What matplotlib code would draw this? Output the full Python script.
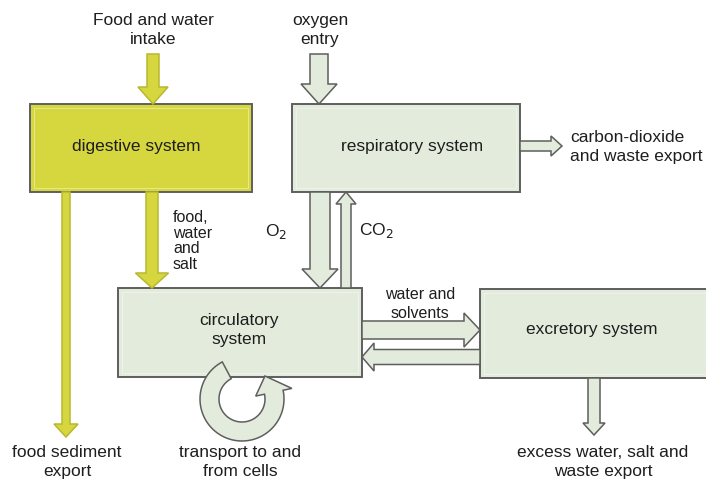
import numpy as np
import matplotlib
matplotlib.use('Agg')
import matplotlib.pyplot as plt
from matplotlib.patches import Rectangle, FancyArrow, Polygon

plt.rcParams['font.family'] = ['Liberation Sans', 'DejaVu Sans']

yellow = '#d6d73e'
pale = '#e3ecdc'
edge = '#5e5e5e'

# boxes: name, x0, y0, x1, y1, colour (pixel coords, y downward)
box_names = ['digestive system', 'respiratory system', 'circulatory\nsystem', 'excretory system']
box_x0 = [30, 292, 118, 480]
box_y0 = [105, 105, 289, 290]
box_x1 = [252, 520, 362, 712]
box_y1 = [193, 193, 378, 379]
box_cols = [yellow, pale, pale, pale]
box_text_y = [147, 147, 330, 330]
box_text_x = [136, 412, 239, 592]

fig = plt.figure(figsize=(7.06, 4.81), dpi=100)
ax = fig.add_axes([0, 0, 1, 1])
ax.set_xlim(0, 706)
ax.set_ylim(481, 0)
ax.axis('off')

for n, x0, y0, x1, y1, c, tx, ty in zip(box_names, box_x0, box_y0, box_x1, box_y1,
                                        box_cols, box_text_x, box_text_y):
    ax.add_patch(Rectangle((x0, y0), x1 - x0, y1 - y0, fc=c, ec=edge, lw=1.4, zorder=2))
    ax.add_patch(Rectangle((x0 + 4, y0 + 4), x1 - x0 - 8, y1 - y0 - 8, fc='none',
                           ec='white', lw=0.6, alpha=0.5, zorder=2))
    ax.text(tx, ty, n, ha='center', va='center', fontsize=12.5, color='#1e1e1e', zorder=4,
            linespacing=1.3)


def arrow(x, y, dx, dy, w, hw, hl, fc, ec):
    ax.add_patch(FancyArrow(x, y, dx, dy, width=w, head_width=hw, head_length=hl,
                            length_includes_head=True, fc=fc, ec=ec, lw=1.1, zorder=3))


# straight arrows: x, y, dx, dy, shaft width, head width, head length, colour
arrow(153, 55, 0, 50, 12, 30, 17, yellow, '#b8b830')           # food intake
arrow(319, 55, 0, 50, 18, 36, 20, pale, edge)                  # oxygen entry
arrow(66, 193, 0, 245, 8, 24, 13, yellow, '#b8b830')           # food sediment
arrow(152, 193, 0, 96, 12, 33, 15, yellow, '#b8b830')          # food, water, salt
arrow(320, 193, 0, 96, 20, 36, 19, pale, edge)                 # O2
arrow(346, 289, 0, -96, 10, 20, 12, pale, edge)                # CO2
arrow(520, 147, 42, 0, 10, 20, 11, pale, edge)                 # CO2 export
arrow(362, 331, 118, 0, 18, 34, 16, pale, edge)                # water and solvents
arrow(480, 358, -118, 0, 15, 28, 12, pale, edge)               # return flow
arrow(594, 379, 0, 57, 12, 22, 12, pale, edge)                 # excretory export

# circular arrow
cx, cy = 242, 400
r_in, r_out = 23, 42
th = np.radians(np.linspace(118, 372, 80))
outer = np.column_stack([cx + r_out * np.cos(th), cy - r_out * np.sin(th)])
inner = np.column_stack([cx + r_in * np.cos(th[::-1]), cy - r_in * np.sin(th[::-1])])
a0 = np.radians(372)
a1 = np.radians(405)
rm = (r_in + r_out) / 2
w_in = [cx + (r_in - 9) * np.cos(a0), cy - (r_in - 9) * np.sin(a0)]
w_out = [cx + (r_out + 9) * np.cos(a0), cy - (r_out + 9) * np.sin(a0)]
tip = [cx + rm * np.cos(a1), cy - rm * np.sin(a1)]
pts = np.vstack([outer, [w_out], [tip], [w_in], inner])
ax.add_patch(Polygon(pts, closed=True, fc=pale, ec=edge, lw=1.1, zorder=3))

# labels: text, x, y, ha, size
lab_txt = ['Food and water\nintake', 'oxygen\nentry', 'carbon-dioxide\nand waste export',
           'water and\nsolvents', 'transport to and\nfrom cells', 'food sediment\nexport',
           'excess water, salt and\nwaste export']
lab_x = [153, 320, 570, 420, 240, 67, 603]
lab_y = [30, 30, 147, 304, 462, 462, 462]
lab_ha = ['center', 'center', 'left', 'center', 'center', 'center', 'center']
lab_fs = [12.5, 12.5, 12.5, 11.5, 12.5, 12.5, 12.5]
for t, x, y, h, s in zip(lab_txt, lab_x, lab_y, lab_ha, lab_fs):
    ax.text(x, y, t, ha=h, va='center', fontsize=s, color='#1e1e1e', linespacing=1.35)

ax.text(173, 241, 'food,\nwater\nand\nsalt', ha='left', va='center', fontsize=11.5,
        color='#1e1e1e', linespacing=1.08)
ax.text(265, 232, 'O$_2$', ha='left', va='center', fontsize=12.5, color='#1e1e1e')
ax.text(359, 231, 'CO$_2$', ha='left', va='center', fontsize=12.5, color='#1e1e1e')

fig.savefig('out.png', dpi=100, facecolor='white')
